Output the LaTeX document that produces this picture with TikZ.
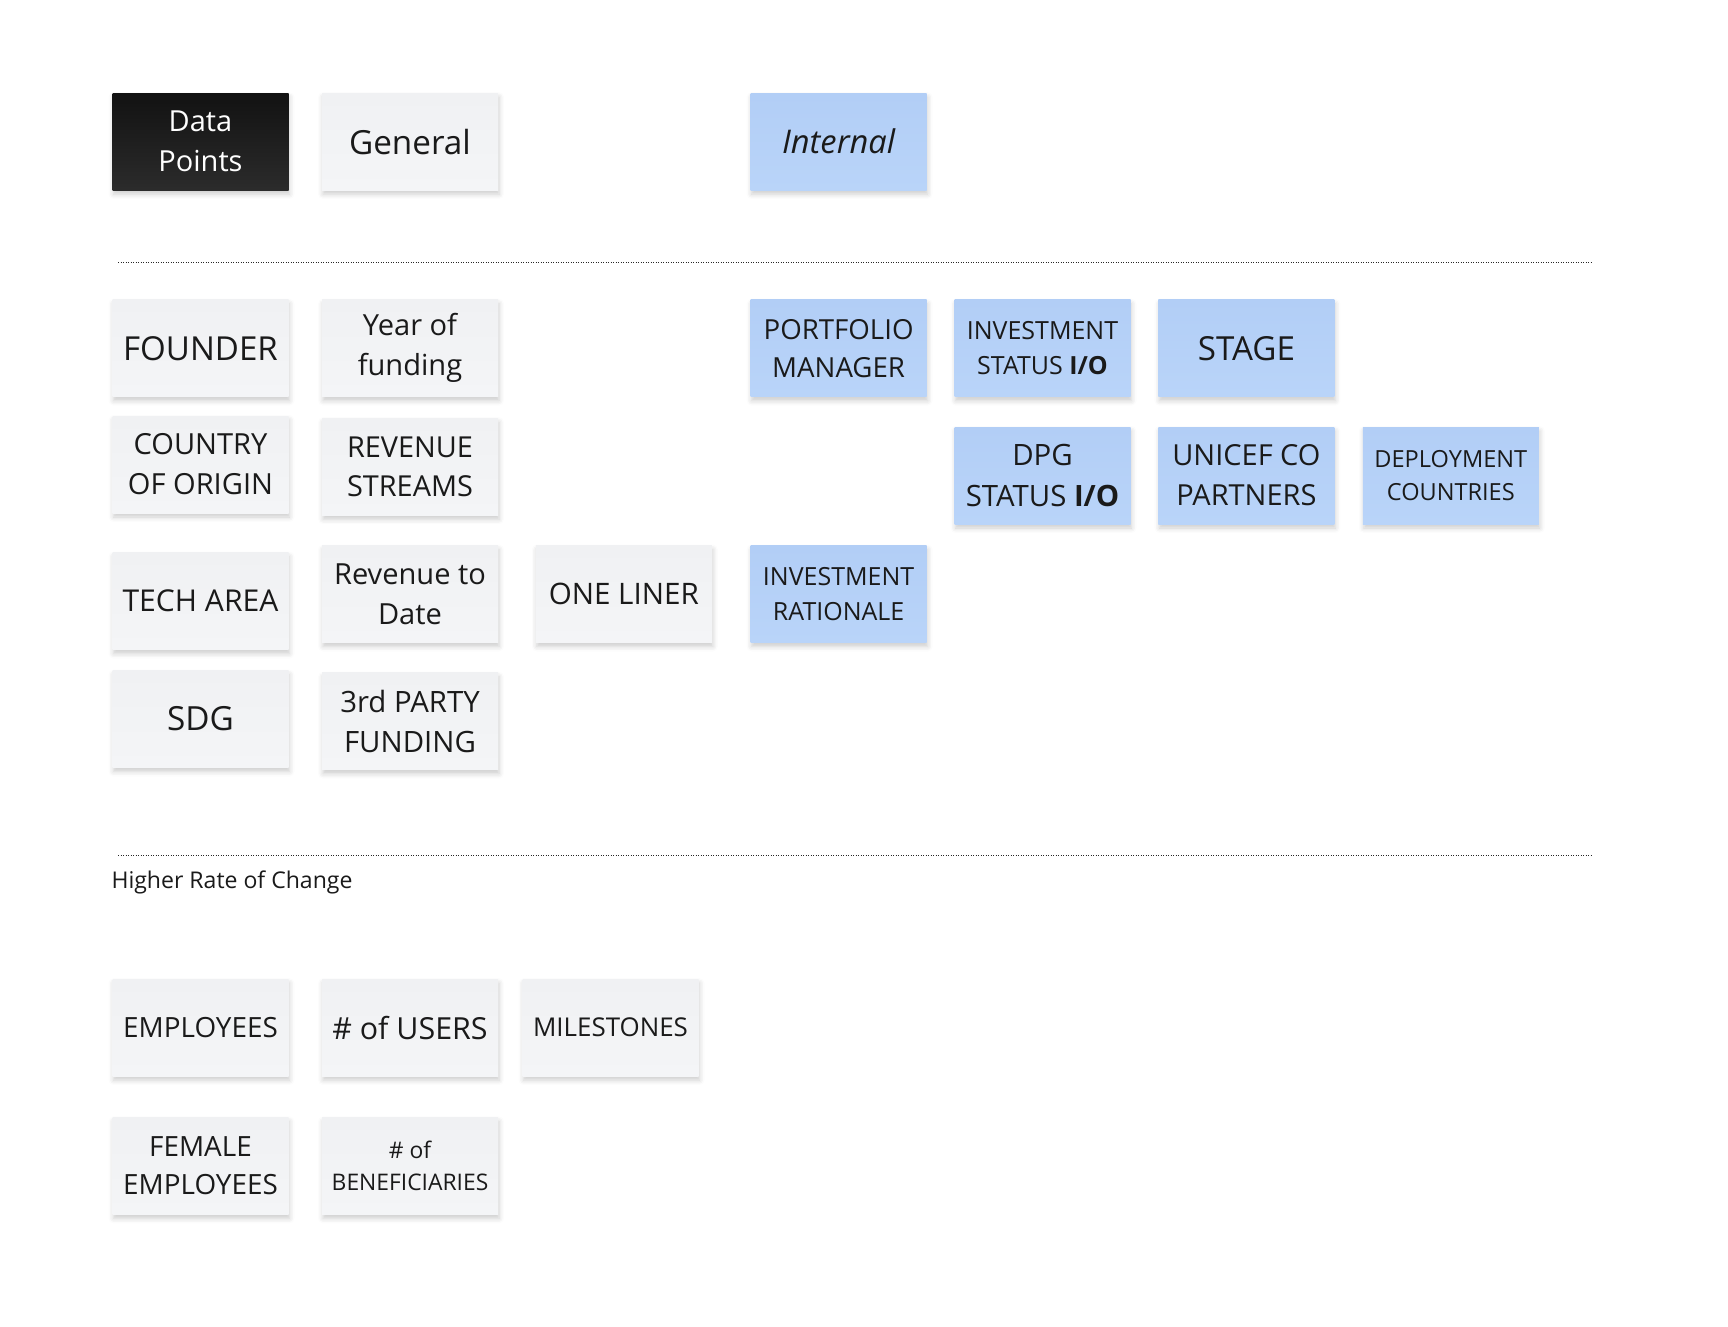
\documentclass[tikz,border=0pt]{standalone}
\usepackage{fontspec}
\setmainfont{Open Sans}
\usetikzlibrary{shadows.blur}
\definecolor{cardgray}{HTML}{F4F5F7}
\definecolor{cardgraytop}{HTML}{F0F1F3}
\definecolor{cardblue}{HTML}{B9D4F9}
\definecolor{cardbluetop}{HTML}{B2CEF6}
\definecolor{inktext}{HTML}{1A1A1A}
\newcommand\fsz[1]{\fontsize{\dimexpr #1pt*102/100\relax}{\dimexpr #1pt*140/100\relax}\selectfont}
\tikzset{
  card/.style={minimum width=176pt, minimum height=97pt, inner sep=0pt, align=center,
    text=inktext,
    blur shadow={shadow xshift=1pt, shadow yshift=-4pt, shadow blur radius=5pt, shadow opacity=20}},
  graycard/.style={card, top color=cardgraytop, bottom color=cardgray},
  bluecard/.style={card, top color=cardbluetop, bottom color=cardblue},
  blackcard/.style={card, top color=black!93, bottom color=black!83, text=white},
  sepline/.style={line width=1.4pt, black!85, dash pattern=on 1pt off 1.5pt},
}
\begin{document}
\begin{tikzpicture}[x=1pt,y=-1pt]
\useasboundingbox (0,0) rectangle (1728,1326);
% header row
\node[blackcard, font=\fsz{28.4}] (dp) at (200.5,141.6) {Data\\Points};
\node[graycard, font=\fsz{32.6}] (gen) at (410,141.6) {General};
\node[bluecard, font=\fsz{32}\itshape] (int) at (838.6,141.6) {Internal};
% separator 1
\coordinate (s1a) at (118,262.5);
\coordinate (s1b) at (1593,262.5);
\draw[sepline] (s1a) -- (s1b);
% general column
\node[graycard, font=\fsz{32.4}] (founder) at (200.5,348.2) {FOUNDER};
\node[graycard, font=\fsz{28.5}] (year) at (410,348.2) {Year of\\funding};
\node[graycard, font=\fsz{28.5}] (country) at (200.5,464.5) {COUNTRY\\OF ORIGIN};
\node[graycard, font=\fsz{28.3}] (revstr) at (410,466.7) {REVENUE\\STREAMS};
\node[graycard, font=\fsz{29.5}] (tech) at (200.5,601.1) {TECH AREA};
\node[graycard, font=\fsz{28.5}] (revdate) at (410,594) {Revenue to\\Date};
\node[graycard, font=\fsz{29}] (oneliner) at (623.8,594) {ONE LINER};
\node[graycard, font=\fsz{32.6}] (sdg) at (200.5,719) {SDG};
\node[graycard, font=\fsz{28.8}] (third) at (410,721.2) {3rd PARTY\\FUNDING};
% internal column
\node[bluecard, font=\fsz{27.1}] (pm) at (838.6,348.2) {PORTFOLIO\\MANAGER};
\node[bluecard, font=\fsz{24.5}] (invst) at (1042.5,348.2) {INVESTMENT\\STATUS \textbf{I/O}};
\node[bluecard, font=\fsz{32.5}] (stage) at (1246.4,348.2) {STAGE};
\node[bluecard, font=\fsz{28.8}] (dpg) at (1042.5,475.5) {DPG\\STATUS \textbf{I/O}};
\node[bluecard, font=\fsz{28.4}] (unicef) at (1246.4,475.5) {UNICEF CO\\PARTNERS};
\node[bluecard, font=\fsz{23.1}] (deploy) at (1450.8,475.5) {DEPLOYMENT\\COUNTRIES};
\node[bluecard, font=\fsz{24.5}] (invrat) at (838.6,594) {INVESTMENT\\RATIONALE};
% separator 2
\coordinate (s2a) at (118,855.2);
\coordinate (s2b) at (1593,855.2);
\draw[sepline] (s2a) -- (s2b);
\node[anchor=west, inner sep=0pt, text=inktext, font=\fsz{22.6}] (hroc) at (111.3,882.6) {Higher Rate of Change};
% higher rate of change
\node[graycard, font=\fsz{27.3}] (emp) at (200.5,1027.6) {EMPLOYEES};
\node[graycard, font=\fsz{29.8}] (users) at (410,1027.6) {\# of USERS};
\node[graycard, font=\fsz{25.4}] (miles) at (610.5,1027.6) {MILESTONES};
\node[graycard, font=\fsz{27.3}] (femp) at (200.5,1165.9) {FEMALE\\EMPLOYEES};
\node[graycard, font=\fsz{22.4}] (benef) at (410,1165.9) {\# of\\BENEFICIARIES};
\end{tikzpicture}
\end{document}
